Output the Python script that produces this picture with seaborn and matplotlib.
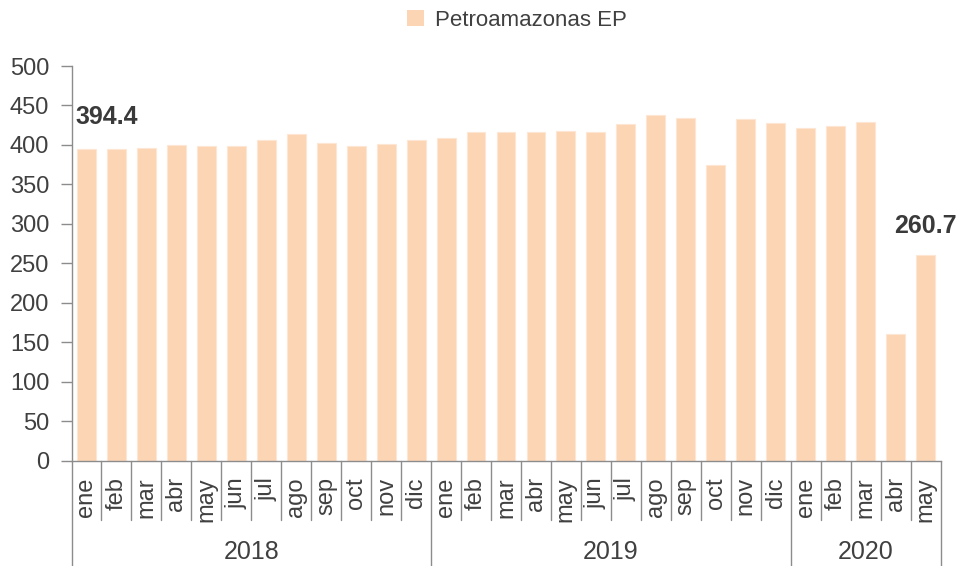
import matplotlib
matplotlib.use("Agg")
import matplotlib.pyplot as plt
from matplotlib import font_manager
from matplotlib.patches import Patch
import seaborn as sns
import pandas as pd
import numpy as np

# ---- data ----
years = ["2018", "2019", "2020"]
months_2018 = ["ene", "feb", "mar", "abr", "may", "jun", "jul", "ago", "sep", "oct", "nov", "dic"]
months_2019 = ["ene", "feb", "mar", "abr", "may", "jun", "jul", "ago", "sep", "oct", "nov", "dic"]
months_2020 = ["ene", "feb", "mar", "abr", "may"]
values_2018 = [394.4, 394.4, 396.5, 400.2, 398.9, 398.9, 406.2, 413.4, 402.9, 398.2, 401.1, 406.2]
values_2019 = [409.4, 415.8, 416.9, 416.7, 418.0, 416.7, 427.1, 438.1, 434.3, 374.2, 433.1, 427.6]
values_2020 = [421.7, 423.4, 429.0, 160.5, 260.7]
series_name = "Petroamazonas EP"
highlight_labels = ["394.4", "260.7"]

months_by_year = [months_2018, months_2019, months_2020]
values_by_year = [values_2018, values_2019, values_2020]

rows = []
for yr, ms, vs in zip(years, months_by_year, values_by_year):
    for m, v in zip(ms, vs):
        rows.append({"key": f"{yr}-{m}", "year": yr, "month": m, "value": v})
df = pd.DataFrame(rows)

# ---- style ----
sns.set_theme(style="white")

def pick(fam, fallback):
    try:
        font_manager.findfont(fam, fallback_to_default=False)
        return fam
    except Exception:
        return fallback

narrow = pick("Liberation Sans Narrow", "Liberation Sans")
regular = pick("Liberation Sans", "DejaVu Sans")
plt.rcParams["font.family"] = [narrow, "DejaVu Sans"]

text_color = "#404040"
axis_color = "#8c8c8c"
bar_color = "#FCD5B4"

fig = plt.figure(figsize=(9.59, 5.66), dpi=100)
W, H = 959, 566
x0, x1 = 71.5, 940.5
y0, y1 = 460.7, 66
ax = fig.add_axes([x0 / W, 1 - y0 / H, (x1 - x0) / W, (y0 - y1) / H])

sns.barplot(data=df, x="key", y="value", color=bar_color, width=0.63,
            edgecolor="#FDE6D3", linewidth=0.8, saturation=1, ax=ax)

n = len(df)
ax.set_xlim(-0.5, n - 0.5)
ax.set_ylim(0, 500)
ax.set_yticks(np.arange(0, 501, 50))
ax.set_xlabel("")
ax.set_ylabel("")

for s in ["top", "right"]:
    ax.spines[s].set_visible(False)
for s in ["left", "bottom"]:
    ax.spines[s].set_color(axis_color)
    ax.spines[s].set_linewidth(1.0)

ax.tick_params(axis="y", which="major", direction="out", length=8, width=1.0,
               color=axis_color, labelsize=17, labelcolor=text_color, pad=8, left=True)
ax.set_xticks(range(n))
ax.set_xticklabels(df["month"], rotation=90, fontsize=17, color=text_color,
                   family=[regular, "DejaVu Sans"], va="top", ha="center")
ax.tick_params(axis="x", length=0, pad=12)

# separators for the multi-level category axis
trans = ax.get_xaxis_transform()
month_depth = -(520 - y0) / (y0 - y1)
year_depth = -(566 - y0) / (y0 - y1)
boundaries = []
start = 0
for ms in months_by_year:
    boundaries.append(start)
    start += len(ms)
boundaries.append(start)
for i in range(n + 1):
    depth = year_depth if i in boundaries else month_depth
    ax.plot([i - 0.5, i - 0.5], [0, depth], transform=trans, color=axis_color,
            lw=1.0, clip_on=False)

for yr, a, b in zip(years, boundaries[:-1], boundaries[1:]):
    ax.text((a + b - 1) / 2, -(552 - y0) / (y0 - y1), yr, transform=trans,
            ha="center", va="center", fontsize=18, color=text_color)

# data labels
first_v = df["value"].iloc[0]
last_v = df["value"].iloc[-1]
ax.annotate(highlight_labels[0], xy=(0, first_v), xytext=(-8, 15), textcoords="offset points",
            ha="left", va="bottom", fontsize=18, fontweight="bold", color="#3a3a3a")
ax.annotate(highlight_labels[1], xy=(n - 1, last_v), xytext=(0, 12), textcoords="offset points",
            ha="center", va="bottom", fontsize=18, fontweight="bold", color="#3a3a3a")

# legend
handle = Patch(facecolor=bar_color, edgecolor="none", label=series_name)
fig.legend(handles=[handle], loc="center", bbox_to_anchor=(517 / W, 1 - 20 / H),
           frameon=False, fontsize=16, handlelength=0.75, handleheight=0.75,
           handletextpad=0.5, labelcolor=text_color)

fig.savefig("out.png", dpi=100)
